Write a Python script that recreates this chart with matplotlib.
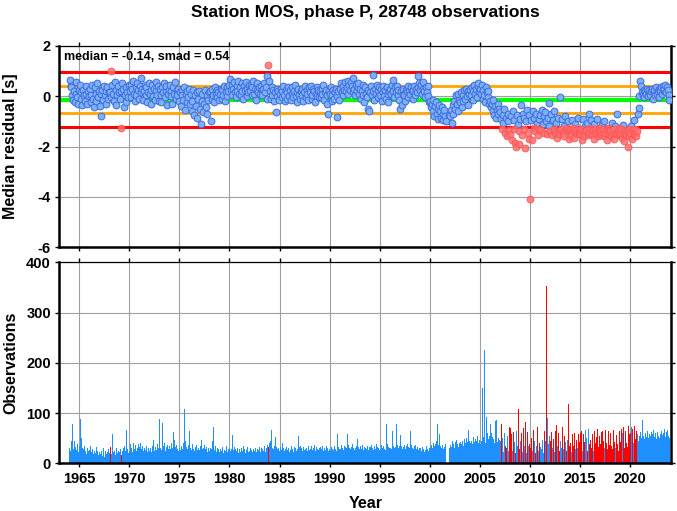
import numpy as np
import matplotlib.pyplot as plt

plt.rcParams['font.family'] = ['Liberation Sans', 'DejaVu Sans']

# monthly median residuals [s], one row per year (Jan..Dec), nan = no data
years = list(range(1964, 2024))
residuals = [
    [0.65, 0.40, 0.35, 0.05, -0.15, 0.20, -0.25, 0.10, 0.55, -0.05, -0.30, 0.25],   # 1964
    [0.45, -0.10, 0.15, -0.35, 0.25, 0.05, -0.20, 0.40, 0.10, -0.30, 0.20, 0.00],
    [0.30, -0.25, 0.05, 0.45, -0.10, -0.45, 0.35, -0.20, 0.10, 0.50, -0.05, 0.20],
    [-0.40, 0.10, -0.80, 0.25, -0.15, 0.40, 0.05, -0.30, 0.20, 0.35, -0.10, 0.15],
    [0.15, 0.98, -0.05, 0.45, 0.10, -0.20, 0.55, 0.25, -0.35, 0.05, 0.40, 0.15],
    [-0.10, 0.20, -1.25, 0.50, 0.30, -0.45, 0.05, -0.25, 0.35, 0.15, -0.05, 0.45],  # 1969
    [0.20, 0.45, -0.05, 0.30, 0.60, 0.10, -0.20, 0.35, 0.05, 0.50, 0.25, -0.10],
    [0.40, 0.15, 0.70, 0.30, -0.15, 0.20, 0.45, 0.05, 0.35, -0.25, 0.15, 0.50],
    [0.10, -0.30, 0.25, 0.45, 0.00, 0.30, -0.15, 0.55, 0.20, 0.05, 0.40, -0.20],
    [0.30, 0.05, -0.25, 0.35, 0.15, 0.50, -0.05, 0.20, 0.40, -0.35, 0.10, 0.25],
    [0.45, 0.20, 0.00, -0.30, 0.35, 0.10, 0.55, -0.10, 0.25, 0.05, 0.30, -0.20],
    [0.15, -0.40, 0.25, 0.05, -0.15, 0.35, -0.55, 0.10, -0.25, 0.20, -0.05, 0.30],  # 1975
    [-0.30, 0.10, -0.60, -0.20, 0.25, -0.75, 0.05, -0.40, 0.15, -0.85, -0.10, 0.20],
    [-0.50, -1.10, -0.20, 0.10, -0.65, -0.30, 0.25, -0.45, 0.05, -0.70, -0.15, 0.15],
    [0.20, -0.97, -0.10, 0.30, 0.05, -0.25, 0.35, 0.10, -0.05, 0.25, 0.15, -0.15],
    [0.10, 0.30, -0.10, 0.25, 0.05, 0.40, -0.20, 0.15, 0.35, 0.00, 0.20, 0.45],
    [0.67, 0.25, 0.45, 0.05, 0.30, 0.55, 0.15, -0.05, 0.40, 0.20, 0.60, 0.10],      # 1980
    [0.35, 0.05, 0.50, 0.20, -0.10, 0.40, 0.25, 0.55, 0.00, 0.30, 0.15, 0.45],
    [0.20, 0.45, 0.05, 0.35, 0.60, 0.10, 0.30, -0.15, 0.25, 0.50, 0.15, 0.35],
    [0.10, 0.40, 0.25, 0.05, 0.30, 0.50, 0.15, 0.35, -0.10, 0.80, 1.22, 0.60],
    [0.20, -0.10, 0.35, 0.05, 0.25, -0.20, 0.15, -0.65, 0.30, 0.00, 0.20, -0.15],
    [0.10, 0.30, -0.05, 0.20, 0.40, 0.05, -0.20, 0.25, 0.15, -0.10, 0.35, 0.00],    # 1985
    [0.25, -0.15, 0.10, 0.35, -0.05, 0.20, 0.45, 0.00, -0.25, 0.15, 0.30, 0.05],
    [-0.10, 0.20, 0.05, 0.30, -0.20, 0.15, 0.40, -0.05, 0.25, 0.10, -0.15, 0.35],
    [0.15, 0.40, -0.10, 0.05, 0.30, 0.20, -0.25, 0.10, 0.35, 0.00, 0.25, -0.05],
    [0.20, -0.05, 0.30, 0.10, 0.45, -0.15, 0.15, 0.25, -0.30, 0.05, -0.70, 0.20],
    [0.10, 0.35, -0.20, 0.05, 0.25, -0.10, 0.15, 0.30, -0.82, 0.00, 0.20, -0.15],   # 1990
    [0.30, 0.50, 0.15, 0.40, 0.05, 0.25, 0.55, 0.20, 0.35, 0.60, 0.10, 0.45],
    [0.25, 0.55, 0.40, 0.15, 0.73, 0.30, 0.05, 0.45, 0.20, 0.35, 0.50, 0.10],
    [0.30, -0.10, 0.20, 0.45, 0.05, -0.25, 0.35, 0.10, -0.05, 0.25, -0.53, -0.60],
    [0.15, 0.40, 0.05, 0.83, 0.20, -0.15, 0.30, 0.10, 0.45, -0.05, 0.25, 0.35],
    [0.05, 0.30, -0.20, 0.15, 0.40, 0.00, 0.25, -0.10, 0.35, 0.10, -0.25, 0.20],    # 1995
    [0.30, 0.10, 0.45, 0.63, 0.20, -0.05, 0.35, 0.15, 0.40, 0.05, 0.25, -0.15],
    [-0.53, 0.20, -0.35, 0.10, 0.30, 0.05, -0.20, 0.25, 0.15, 0.40, -0.05, 0.20],
    [0.10, 0.35, 0.20, -0.10, 0.25, 0.40, 0.05, 0.30, 0.15, 0.80, 0.35, 0.50],
    [0.25, 0.45, 0.10, 0.30, 0.55, 0.20, -0.05, 0.35, 0.15, 0.40, 0.00, -0.25],
    [-0.20, -0.45, -0.30, -0.60, -0.15, -0.80, -0.40, -0.25, -0.70, -0.90, -0.50, -0.35],  # 2000
    [-0.60, -0.85, -0.45, -0.93, -0.70, -0.55, -0.80, -1.00, np.nan, np.nan, np.nan, -0.75],
    [-0.80, -0.55, -1.05, -0.35, -0.70, -0.20, -0.50, 0.05, -0.30, -0.60, 0.10, -0.15],
    [-0.25, 0.15, -0.45, 0.05, -0.20, 0.25, -0.10, 0.30, 0.00, -0.35, 0.20, 0.10],
    [0.25, 0.05, 0.35, -0.15, 0.20, 0.45, 0.10, 0.30, -0.05, 0.40, 0.50, 0.15],
    [0.30, 0.10, 0.45, -0.10, 0.25, 0.05, -0.25, 0.35, 0.15, -0.05, 0.20, -0.30],   # 2005
    [-0.20, -0.45, -0.30, -0.60, -0.15, -0.75, -0.40, -0.85, -0.55, -0.30, -0.70, -0.50],
    [-0.65, -0.90, -1.30, -0.75, -1.05, -0.50, -1.45, -0.85, -1.60, -0.70, -1.00, -1.35],
    [-1.50, -0.80, -1.75, -0.60, -1.30, -0.95, -1.85, -2.00, -0.75, -1.10, -1.40, -1.90],
    [-0.90, -0.37, -1.55, -0.70, -1.30, -0.85, -2.05, -1.00, -0.55, -1.45, -0.75, -1.70],
    [-4.10, -0.95, -1.73, -0.60, -1.25, -0.85, -1.40, -0.70, -1.05, -1.55, -0.90, -1.30],  # 2010
    [-0.75, -1.35, -0.55, -1.10, -0.80, -1.45, -0.65, -1.00, -1.50, -0.85, -0.27, -1.20],
    [-1.40, -0.70, -1.55, -0.95, -1.30, -0.60, -1.45, -1.05, -1.67, -0.85, -1.35, -1.50],
    [-0.02, -1.30, -0.90, -1.45, -1.20, -1.60, -0.80, -1.35, -1.25, -1.00, -1.70, -1.40],
    [-1.30, -1.55, -0.95, -1.40, -1.25, -1.65, -1.10, -1.35, -1.50, -0.85, -1.45, -1.30],
    [-1.50, -1.30, -1.75, -0.90, -1.40, -1.60, -1.20, -1.35, -1.05, -1.55, -0.70, -1.45],  # 2015
    [-1.25, -0.95, -1.50, -1.35, -1.10, -1.70, -1.30, -1.45, -0.90, -1.60, -1.35, -1.25],
    [-1.40, -1.55, -1.15, -1.30, -1.60, -1.00, -1.45, -1.35, -1.75, -1.25, -1.50, -1.30],
    [-1.35, -1.60, -1.05, -1.45, -1.30, -1.70, -1.20, -1.50, -0.70, -1.40, -1.55, -1.25],
    [-1.50, -1.30, -1.65, -1.15, -1.45, -1.80, -1.35, -1.55, -1.40, -2.03, -1.30, -1.60],
    [-1.45, -1.20, -1.70, -1.35, -0.95, -1.50, -1.30, -1.60, -1.40, -0.70, -0.47, 0.00],   # 2020
    [0.60, 0.40, 0.15, 0.05, 0.25, -0.05, 0.20, 0.10, 0.30, 0.00, 0.15, 0.25],
    [0.05, 0.20, 0.30, -0.10, 0.15, 0.25, 0.05, 0.35, 0.10, 0.20, -0.05, 0.30],
    [0.25, 0.35, 0.10, 0.40, 0.20, 0.30, 0.45, 0.15, 0.35, 0.25, 0.05, -0.17],
]

# monthly number of observations, same layout
counts = [
    [30, 25, 45, 78, 35, 28, 45, 32, 26, 38, 30, 22],   # 1964
    [35, 89, 51, 30, 22, 28, 35, 25, 18, 30, 24, 20],
    [26, 34, 22, 28, 18, 30, 25, 20, 32, 24, 17, 28],
    [22, 18, 25, 15, 30, 20, 12, 24, 18, 22, 28, 16],
    [20, 33, 18, 59, 22, 55, 25, 17, 30, 20, 24, 15],
    [22, 28, 17, 25, 30, 20, 35, 24, 67, 28, 20, 32],   # 1969
    [25, 38, 30, 22, 40, 35, 28, 36, 24, 30, 38, 26],
    [32, 40, 28, 35, 24, 38, 30, 26, 34, 22, 30, 28],
    [25, 30, 22, 35, 47, 28, 24, 32, 26, 38, 30, 45],
    [89, 30, 26, 81, 35, 28, 40, 24, 32, 36, 28, 30],
    [34, 28, 40, 30, 62, 26, 47, 32, 36, 28, 24, 38],
    [30, 26, 35, 28, 40, 24, 108, 45, 32, 28, 36, 30],  # 1975
    [64, 30, 26, 38, 28, 47, 24, 32, 36, 26, 30, 28],
    [26, 34, 47, 28, 30, 24, 36, 28, 32, 22, 30, 26],
    [24, 30, 28, 45, 72, 32, 26, 35, 22, 30, 28, 24],
    [22, 28, 25, 32, 20, 30, 26, 24, 34, 22, 28, 25],
    [30, 24, 28, 57, 26, 22, 32, 28, 24, 30, 20, 26],   # 1980
    [28, 22, 30, 25, 34, 24, 28, 20, 26, 32, 22, 28],
    [24, 30, 26, 22, 28, 35, 24, 30, 22, 28, 26, 32],
    [26, 22, 30, 28, 24, 34, 28, 22, 30, 36, 32, 40],
    [38, 45, 67, 30, 28, 35, 26, 53, 32, 28, 30, 24],
    [28, 32, 26, 40, 30, 24, 36, 28, 32, 26, 30, 22],   # 1985
    [30, 26, 34, 28, 22, 32, 26, 30, 24, 28, 55, 32],
    [28, 35, 30, 24, 32, 26, 38, 28, 30, 24, 34, 26],
    [30, 28, 34, 26, 30, 36, 28, 24, 32, 28, 26, 30],
    [26, 32, 28, 34, 24, 30, 28, 26, 35, 30, 24, 28],
    [30, 24, 32, 28, 26, 34, 30, 28, 24, 58, 32, 28],   # 1990
    [32, 28, 36, 30, 26, 34, 28, 32, 30, 58, 36, 30],
    [34, 28, 32, 38, 30, 26, 36, 30, 34, 48, 32, 28],
    [30, 34, 28, 36, 26, 32, 38, 30, 28, 34, 26, 32],
    [28, 32, 36, 30, 26, 34, 30, 28, 38, 32, 30, 26],
    [32, 28, 36, 30, 34, 28, 30, 26, 78, 38, 32, 30],   # 1995
    [36, 30, 28, 64, 34, 30, 38, 32, 78, 36, 30, 34],
    [30, 57, 34, 28, 32, 36, 30, 28, 34, 38, 32, 30],
    [32, 64, 36, 30, 28, 34, 30, 36, 28, 32, 26, 30],
    [26, 30, 24, 32, 28, 22, 30, 26, 34, 28, 24, 30],
    [32, 28, 36, 30, 40, 34, 38, 30, 44, 78, 36, 58],   # 2000
    [34, 40, 30, 36, 28, 32, 38, 26, 0, 0, 0, 30],
    [36, 40, 32, 44, 38, 30, 42, 35, 46, 38, 32, 40],
    [42, 66, 38, 45, 35, 48, 40, 36, 50, 42, 67, 44],
    [40, 66, 45, 38, 52, 42, 48, 36, 44, 55, 40, 46],
    [38, 48, 44, 150, 52, 226, 40, 108, 92, 60, 48, 55],  # 2005
    [79, 45, 60, 52, 48, 40, 85, 55, 87, 42, 50, 46],
    [44, 28, 78, 50, 22, 60, 35, 68, 30, 55, 25, 72],
    [70, 30, 58, 25, 62, 42, 20, 38, 65, 34, 108, 28],
    [45, 28, 60, 22, 70, 35, 82, 48, 20, 62, 34, 38],
    [30, 80, 50, 25, 66, 45, 20, 58, 35, 72, 24, 40],   # 2010
    [32, 60, 28, 46, 20, 65, 44, 26, 352, 90, 38, 55],
    [45, 28, 62, 30, 48, 22, 65, 42, 77, 35, 60, 25],
    [44, 70, 30, 72, 28, 55, 42, 60, 25, 46, 117, 34],
    [40, 68, 22, 58, 35, 60, 28, 65, 46, 30, 58, 42],
    [60, 34, 65, 25, 58, 42, 66, 30, 50, 25, 68, 38],   # 2015
    [46, 70, 30, 58, 25, 64, 40, 52, 28, 68, 32, 55],
    [38, 62, 25, 65, 44, 30, 66, 40, 58, 28, 64, 36],
    [60, 35, 62, 28, 66, 42, 30, 56, 62, 38, 24, 65],
    [42, 68, 36, 60, 72, 30, 65, 40, 68, 32, 75, 58],
    [60, 72, 35, 68, 40, 74, 48, 65, 30, 58, 45, 55],   # 2020
    [62, 50, 58, 86, 55, 48, 60, 52, 56, 64, 50, 58],
    [55, 62, 50, 58, 66, 52, 60, 48, 56, 62, 54, 50],
    [58, 64, 82, 56, 60, 68, 52, 62, 58, 66, 54, 50],
]

median = -0.14
smad = 0.54
total_obs = 28748

t = np.array([y + (m + 0.5) / 12 for y in years for m in range(12)])
res = np.array(residuals, dtype=float).ravel()
obs = np.array(counts, dtype=float).ravel()

lo, hi = median - 2 * smad, median + 2 * smad
outlier = (res < lo) | (res > hi)
ok = ~outlier & ~np.isnan(res)

fig = plt.figure(figsize=(6.77, 5.11), dpi=100)
ax1 = fig.add_axes([0.0876, 0.516, 0.9034, 0.3946])
ax2 = fig.add_axes([0.0876, 0.0934, 0.9034, 0.3933])

xlim = (1963.0, 2024.1)

for ax in (ax1, ax2):
    ax.set_xlim(*xlim)
    ax.set_xticks(range(1965, 2021, 5))
    ax.grid(True, color='#a0a0a0', lw=0.8)
    ax.set_axisbelow(True)
    ax.tick_params(direction='out', length=3, width=1, top=True, right=True,
                   labelsize=10.5, pad=3)
    for s in ('left', 'right', 'bottom'):
        ax.spines[s].set_linewidth(1.8)
    ax.spines['top'].set_linewidth(0.9)

# top panel: median residuals
ax1.set_ylim(-6, 2)
ax1.set_yticks([2, 0, -2, -4, -6])
ax1.set_yticklabels(['2', '0', '-2', '-4', '-6'], fontweight='bold')
ax1.tick_params(labelbottom=False)
ax1.axhline(hi, color='#ff0000', lw=2.2, zorder=2)
ax1.axhline(lo, color='#ff0000', lw=2.2, zorder=2)
ax1.axhline(median + smad, color='#ffa500', lw=2.0, zorder=2)
ax1.axhline(median - smad, color='#ffa500', lw=2.0, zorder=2)
ax1.axhline(median, color='#00ff00', lw=3.0, zorder=2)
ax1.scatter(t[ok], res[ok], s=24, facecolor='#7fb0f5', edgecolor='#3a6ce0',
            linewidth=0.7, zorder=3)
ax1.scatter(t[outlier], res[outlier], s=24, facecolor='#ff7070', edgecolor='#ff5050',
            linewidth=0.7, alpha=0.85, zorder=3)
ax1.text(0.008, 0.975, f'median = {median:.2f}, smad = {smad:.2f}',
         transform=ax1.transAxes, ha='left', va='top', fontsize=9, fontweight='bold')
ax1.set_ylabel('Median residual [s]', fontsize=11.5, fontweight='bold')
ax1.yaxis.set_label_coords(-0.067, 0.5)

# bottom panel: number of observations per month
bar_colors = np.where(outlier, '#ff0000', '#1e90ff')
ax2.bar(t, obs, width=1 / 12, color=bar_colors, linewidth=0, zorder=2)
ax2.set_ylim(0, 400)
ax2.set_yticks([0, 100, 200, 300, 400])
ax2.set_yticklabels(['0', '100', '200', '300', '400'], fontweight='bold')
ax2.set_xticklabels([str(y) for y in range(1965, 2021, 5)], fontweight='bold')
ax2.set_ylabel('Observations', fontsize=11.5, fontweight='bold')
ax2.yaxis.set_label_coords(-0.067, 0.5)

fig.text(0.54, 1 - 503.5 / 511, 'Year', ha='center', va='center',
         fontsize=11.5, fontweight='bold')
fig.text(0.54, 1 - 12.5 / 511, f'Station MOS, phase P, {total_obs} observations',
         ha='center', va='center', fontsize=12.5, fontweight='bold')

fig.savefig('out.png', dpi=100)
